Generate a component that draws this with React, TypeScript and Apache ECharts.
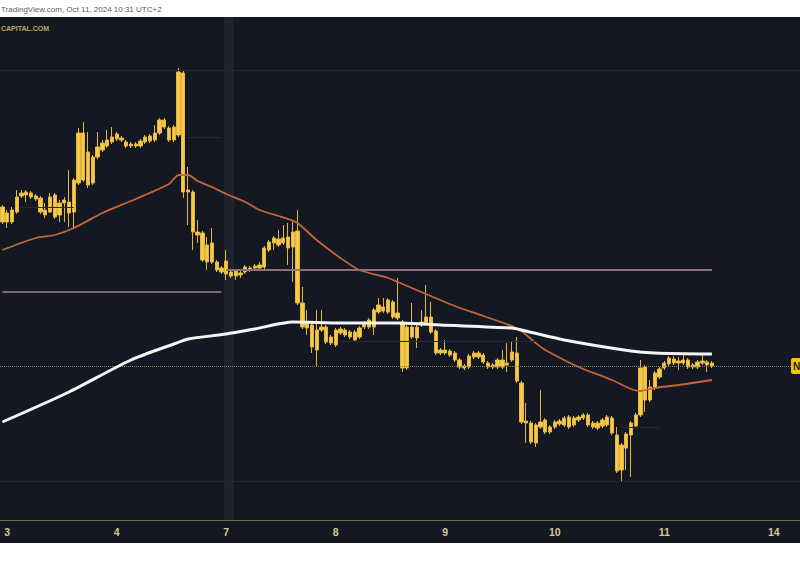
import React, { useEffect, useRef } from "react";
import * as echarts from "echarts";

// ---- data ----
const dayLabels = ["3", "4", "7", "8", "9", "10", "11", "14"];
const barsPerDay = 23;
const leadBars = 1; // one bar of the previous session visible at the left edge
const totalSlots = 168;

// hourly candles: [open, close, low, high]
const candles: number[][] = [
  [313, 298, 296, 315],
  // Oct 3
  [298, 307, 292, 310], [298, 310, 296, 313], [308, 323, 306, 330], [324, 327, 322, 330],
  [328, 325, 318, 330], [327, 323, 321, 329], [324, 321, 319, 326], [322, 308, 306, 324],
  [310, 305, 302, 317], [308, 323, 307, 327], [325, 303, 301, 327], [305, 317, 298, 320],
  [317, 320, 298, 323], [318, 307, 293, 350], [308, 340, 292, 342], [337, 387, 335, 392],
  [387, 340, 338, 398], [335, 368, 332, 388], [363, 337, 335, 365], [363, 373, 361, 388],
  [370, 377, 368, 380], [374, 380, 372, 390], [378, 383, 376, 393],
  // Oct 4
  [381, 386, 379, 388], [382, 380, 378, 384], [378, 374, 372, 380], [376, 374, 372, 378],
  [374, 376, 372, 378], [374, 379, 372, 381], [378, 383, 376, 385], [379, 384, 377, 386],
  [380, 387, 378, 395], [387, 400, 385, 402], [400, 393, 391, 402], [392, 380, 378, 394],
  [380, 393, 378, 395], [385, 448, 383, 452], [447, 328, 322, 450], [328, 330, 295, 353],
  [328, 288, 270, 330], [288, 285, 277, 300], [287, 260, 258, 289], [258, 275, 250, 283],
  [277, 258, 256, 292], [258, 250, 248, 260], [252, 248, 246, 254],
  // Oct 7
  [246, 259, 240, 270], [248, 244, 242, 250], [244, 249, 240, 251], [247, 245, 242, 249],
  [248, 253, 246, 255], [252, 250, 248, 254], [252, 254, 250, 256], [252, 255, 250, 258],
  [253, 272, 251, 274], [270, 278, 268, 280], [277, 282, 270, 284], [281, 275, 273, 290],
  [277, 282, 275, 295], [283, 272, 255, 297], [273, 288, 238, 298], [289, 217, 215, 310],
  [217, 193, 191, 233], [192, 197, 185, 210], [195, 173, 167, 197], [170, 190, 153, 210],
  [190, 193, 188, 210], [193, 178, 176, 195], [177, 183, 175, 185],
  // Oct 8
  [175, 190, 173, 192], [191, 187, 185, 193], [190, 185, 183, 192], [188, 183, 181, 190],
  [180, 188, 178, 190], [183, 192, 181, 194], [193, 197, 191, 199], [193, 200, 191, 202],
  [193, 210, 185, 212], [208, 215, 206, 222], [213, 209, 207, 222], [208, 220, 206, 222],
  [218, 203, 201, 220], [202, 207, 200, 242], [198, 152, 148, 200], [152, 193, 150, 195],
  [193, 183, 181, 217], [182, 193, 172, 195], [195, 198, 193, 210], [197, 203, 195, 235],
  [203, 188, 186, 218], [189, 167, 165, 191], [167, 170, 165, 172],
  // Oct 9
  [170, 167, 165, 180], [169, 165, 163, 171], [167, 160, 158, 169], [160, 153, 151, 162],
  [152, 154, 150, 156], [153, 164, 151, 166], [163, 167, 161, 169], [167, 163, 161, 169],
  [165, 158, 156, 167], [157, 153, 151, 159], [153, 155, 151, 157], [153, 160, 151, 162],
  [160, 153, 151, 170], [155, 157, 148, 177], [160, 168, 158, 178], [167, 139, 137, 183],
  [137, 98, 96, 139], [99, 97, 77, 117], [97, 78, 76, 99], [77, 95, 73, 97],
  [93, 98, 91, 130], [100, 88, 86, 102], [88, 93, 86, 95],
  // Oct 10
  [93, 98, 91, 100], [96, 99, 94, 101], [95, 102, 93, 104], [103, 93, 91, 105],
  [95, 102, 93, 104], [100, 103, 98, 105], [102, 105, 100, 107], [105, 95, 93, 107],
  [97, 93, 91, 99], [92, 97, 90, 99], [94, 100, 92, 102], [95, 103, 93, 105],
  [102, 87, 85, 104], [85, 49, 47, 93], [50, 75, 38, 77], [72, 86, 50, 88],
  [85, 97, 43, 99], [94, 105, 92, 107], [105, 152, 103, 160], [153, 120, 108, 155],
  [120, 133, 118, 140], [132, 147, 130, 149], [143, 151, 141, 153],
  // Oct 11
  [152, 157, 150, 159], [156, 162, 154, 164], [161, 157, 155, 164], [157, 159, 150, 163],
  [157, 160, 155, 165], [160, 153, 151, 162], [153, 155, 151, 157], [153, 158, 151, 160],
  [159, 157, 155, 167], [158, 155, 148, 160], [157, 154, 152, 159],
];

// moving averages: [slot, value]
const maFast: number[][] = [
  [0, 270], [7, 282], [11, 285], [15, 292], [21, 307], [28, 321], [35, 336], [37, 345],
  [39, 345], [41, 339], [44, 333], [47, 326], [51, 318], [54, 310], [58, 304], [60, 301],
  [62, 297], [66, 280], [71, 262], [75, 250], [81, 242], [84, 236], [88, 228], [95, 214],
  [101, 204], [107, 194], [109, 189], [112, 177], [114, 170], [121, 153], [128, 140],
  [132, 131], [134, 129], [137, 132], [142, 135], [149, 140],
];
const maSlow: number[][] = [
  [0, 98], [14, 128], [27, 160], [36, 176], [39, 181], [47, 186], [53, 191], [61, 198],
  [71, 197], [83, 197], [92, 195], [107, 192], [109, 190], [118, 180], [132, 169],
  [137, 167], [149, 166],
];

// horizontal levels: [value, fromSlot, toSlot]
const levelPrevWeek = [228, 0, 46];
const levelWeek = [250, 47, 149];
const faintLevels: number[][] = [
  [313, 4, 15], [383, 39, 46], [179, 71, 112], [93, 130, 138],
];
const faintFull = [450, 39];
const lastPrice = 154;

const categories: string[] = [];
for (let k = 0; k < totalSlots; k++) {
  const i = k - leadBars;
  if (i < 0) categories.push("prev|" + k);
  else {
    const d = Math.floor(i / barsPerDay);
    categories.push((dayLabels[d] ?? "x") + "|" + (i % barsPerDay));
  }
}
const isDayStart = (k: number) => {
  const i = k - leadBars;
  return i >= 0 && i % barsPerDay === 0 && Math.floor(i / barsPerDay) < dayLabels.length;
};

export default function App() {
  const ref = useRef<HTMLDivElement>(null);
  useEffect(() => {
    if (!ref.current) return;
    const chart = echarts.init(ref.current, null, { renderer: "svg" });
    const bw = 4.83;
    const levelLines = [
      [
        { coord: [levelPrevWeek[1], levelPrevWeek[0]], lineStyle: { color: "#7a6676", width: 2, type: "solid" } },
        { coord: [levelPrevWeek[2], levelPrevWeek[0]] },
      ],
      [
        { coord: [levelWeek[1], levelWeek[0]], lineStyle: { color: "#8d7272", width: 2, type: "solid" } },
        { coord: [levelWeek[2], levelWeek[0]] },
      ],
      ...faintLevels.map((f) => [
        { coord: [f[1], f[0]], lineStyle: { color: "#272b38", width: 1, type: "solid" } },
        { coord: [f[2], f[0]] },
      ]),
      ...faintFull.map((v) => ({ yAxis: v, lineStyle: { color: "#242835", width: 1, type: "solid" } })),
      { yAxis: lastPrice, lineStyle: { color: "#8c7c52", width: 1, type: "dotted" } },
    ];
    chart.setOption({
      animation: false,
      backgroundColor: "#ffffff",
      grid: { left: -0.83 - bw / 2, top: 17, width: totalSlots * bw, height: 503 },
      xAxis: {
        type: "category",
        data: categories,
        boundaryGap: true,
        axisLine: { show: true, lineStyle: { color: "#7d6f4e", width: 1 } },
        axisTick: { show: false },
        splitLine: { show: false },
        axisLabel: {
          interval: (idx: number) => isDayStart(idx),
          formatter: (val: string, idx: number) => (isDayStart(idx) ? val.split("|")[0] : ""),
          color: "#d6c695",
          fontSize: 10.5,
          fontWeight: "bold",
          fontFamily: "Liberation Sans",
          margin: 6,
          hideOverlap: false,
        },
      },
      yAxis: { type: "value", min: 0, max: 503, show: false, splitLine: { show: false } },
      graphic: [
        { type: "rect", z: -20, silent: true, shape: { x: 0, y: 17, width: 800, height: 526 }, style: { fill: "#141823" } },
        { type: "rect", z: -19, silent: true, shape: { x: 224, y: 17, width: 10, height: 503 }, style: { fill: "#1f2330" } },
        {
          type: "text", z: 50, x: 1, y: 9,
          style: { text: "TradingView.com, Oct 11, 2024 10:31 UTC+2", fill: "#5a5a5a", fontSize: 8, fontFamily: "Liberation Sans", verticalAlign: "middle" },
        },
        {
          type: "text", z: 50, x: 1, y: 28,
          style: { text: "CAPITAL.COM", fill: "#c9a54c", fontSize: 7, fontWeight: "bold", fontFamily: "Liberation Sans", verticalAlign: "middle" },
        },
        { type: "rect", z: 100, shape: { x: 791, y: 358, width: 15, height: 16, r: 2 }, style: { fill: "#f5c400" } },
        {
          type: "text", z: 101, x: 793, y: 366,
          style: { text: "N", fill: "#1a1a1a", fontSize: 10, fontWeight: "bold", fontFamily: "Liberation Sans", verticalAlign: "middle" },
        },
      ],
      series: [
        {
          type: "line",
          name: "levels",
          data: [],
          z: 1,
          silent: true,
          markLine: { silent: true, symbol: ["none", "none"], label: { show: false }, data: levelLines },
        },
        {
          type: "candlestick",
          data: candles,
          barWidth: 3.8,
          z: 3,
          itemStyle: {
            color: "#f7c947",
            color0: "#f7c947",
            borderColor: "#e0b540",
            borderColor0: "#e0b540",
            borderWidth: 1,
          },
        },
        {
          type: "line",
          data: maFast,
          showSymbol: false,
          smooth: 0.25,
          z: 4,
          lineStyle: { color: "#c4663a", width: 1.8 },
        },
        {
          type: "line",
          data: maSlow,
          showSymbol: false,
          smooth: 0.25,
          z: 5,
          lineStyle: { color: "#f5f5f5", width: 3 },
        },
      ],
    });
    return () => chart.dispose();
  }, []);
  return (
    <div
      ref={ref}
      style={{ position: "fixed", left: 0, top: 0, width: 800, height: 566, background: "#fff" }}
    />
  );
}
